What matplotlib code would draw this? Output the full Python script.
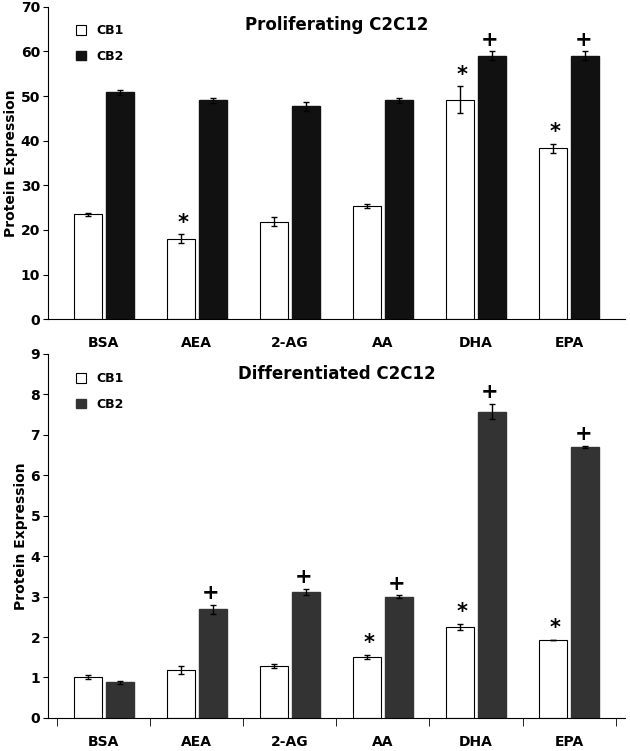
import numpy as np
import matplotlib.pyplot as plt

cats = ["BSA", "AEA", "2-AG", "AA", "DHA", "EPA"]

# proliferating
p_cb1 = [23.5, 18.0, 21.8, 25.3, 49.2, 38.3]
p_cb1_err = [0.4, 1.0, 1.0, 0.5, 3.0, 1.0]
p_cb2 = [50.8, 49.0, 47.7, 49.0, 59.0, 59.0]
p_cb2_err = [0.6, 0.6, 1.0, 0.6, 1.0, 1.0]
p_cb1_mark = ["", "*", "", "", "*", "*"]
p_cb2_mark = ["", "", "", "", "+", "+"]

# differentiated
d_cb1 = [1.02, 1.18, 1.28, 1.50, 2.25, 1.93]
d_cb1_err = [0.05, 0.10, 0.05, 0.05, 0.07, 0.0]
d_cb2 = [0.88, 2.68, 3.12, 3.00, 7.57, 6.70]
d_cb2_err = [0.03, 0.12, 0.07, 0.03, 0.18, 0.03]
d_cb1_mark = ["", "", "", "*", "*", "*"]
d_cb2_mark = ["", "+", "+", "+", "+", "+"]

plt.rcParams['font.weight'] = 'bold'
plt.rcParams['axes.labelweight'] = 'bold'
fig = plt.figure(figsize=(6.3, 7.51), dpi=100)
ax1 = fig.add_axes([0.076, 0.575, 0.916, 0.416])
ax2 = fig.add_axes([0.076, 0.044, 0.916, 0.485])

x = np.arange(len(cats))
w = 0.3

def panel(ax, c1, e1, c2, e2, m1, m2, col2, ymax, step, title, off, seps):
    ax.bar(x - w/2 - 0.02, c1, w, yerr=e1, color="white", edgecolor="black",
           linewidth=0.8, error_kw=dict(ecolor="black", capsize=2, lw=1), label="CB1")
    ax.bar(x + w/2 + 0.02, c2, w, yerr=e2, color=col2, edgecolor=col2,
           error_kw=dict(ecolor="black", capsize=2, lw=1), label="CB2")
    for i in range(len(cats)):
        if m1[i]:
            ax.text(x[i] - w/2, c1[i] + e1[i] + off*0.3, m1[i], ha="center", va="bottom", fontsize=15)
        if m2[i]:
            ax.text(x[i] + w/2, c2[i] + e2[i] + off*0.3, m2[i], ha="center", va="bottom", fontsize=15)
    ax.set_xlim(-0.6, len(cats) - 0.4)
    ax.set_ylim(0, ymax)
    ax.set_yticks(np.arange(0, ymax + step/2, step))
    ax.set_xticks(x)
    ax.set_xticklabels(cats, fontsize=10)
    ax.tick_params(axis="x", length=0, pad=12)
    if seps:
        ax.set_xticks(np.arange(-0.5, len(cats), 1), minor=True)
        ax.tick_params(axis="x", which="minor", length=6)
    ax.tick_params(axis="y", labelsize=10, pad=2)
    ax.spines["top"].set_visible(False)
    ax.spines["right"].set_visible(False)
    ax.set_ylabel("Protein Expression", fontsize=10, labelpad=2)
    ax.text(0.5, 0.97, title, transform=ax.transAxes, ha="center", va="top", fontsize=12)
    ax.legend(loc="upper left", bbox_to_anchor=(0.03, 0.98), frameon=False, fontsize=9,
              handlelength=0.8, handleheight=0.8, labelspacing=1.0)

panel(ax1, p_cb1, p_cb1_err, p_cb2, p_cb2_err, p_cb1_mark, p_cb2_mark, "#111111",
      70, 10, "Proliferating C2C12", 1.0, False)
panel(ax2, d_cb1, d_cb1_err, d_cb2, d_cb2_err, d_cb1_mark, d_cb2_mark, "#333333",
      9, 1, "Differentiated C2C12", 0.15, True)

fig.savefig("out.png", dpi=100)
